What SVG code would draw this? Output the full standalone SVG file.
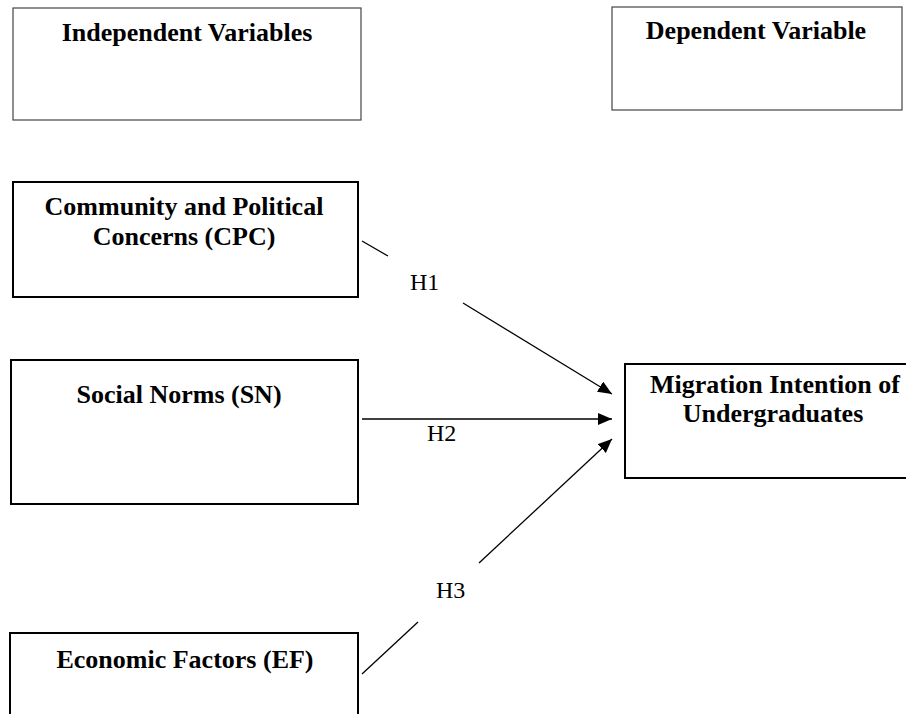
<svg xmlns="http://www.w3.org/2000/svg" width="906" height="714" viewBox="0 0 906 714">
<style>
  .hdr { fill: #fff; stroke: #444; stroke-width: 1.2; }
  .node { fill: #fff; stroke: #000; stroke-width: 2; }
  .t { font-family: "Liberation Serif", "Times New Roman", serif; font-weight: bold; font-size: 26px; fill: #000; text-anchor: middle; }
  .h { font-family: "Liberation Serif", "Times New Roman", serif; font-size: 24px; fill: #000; }
  .c { stroke: #000; stroke-width: 1.3; fill: none; }
</style>
<defs>
  <marker id="arr" markerUnits="userSpaceOnUse" markerWidth="16" markerHeight="14" refX="14" refY="6" orient="auto">
    <path d="M0,0 L14,6 L0,12 z" fill="#000"/>
  </marker>
</defs>
<rect width="906" height="714" fill="#fff"/>
<g id="independent-header">
  <rect class="hdr" x="13" y="8" width="348" height="112"/>
  <text class="t" x="187" y="41">Independent Variables</text>
</g>
<g id="dependent-header">
  <rect class="hdr" x="612" y="7" width="290" height="103"/>
  <text class="t" x="756" y="39">Dependent Variable</text>
</g>
<g id="cpc">
  <rect class="node" x="13" y="182" width="345" height="115"/>
  <text class="t" x="184" y="215">Community and Political</text>
  <text class="t" x="184" y="245">Concerns (CPC)</text>
</g>
<g id="sn">
  <rect class="node" x="11" y="360" width="347" height="144"/>
  <text class="t" x="179" y="403">Social Norms (SN)</text>
</g>
<g id="ef">
  <rect class="node" x="10" y="633" width="348" height="100"/>
  <text class="t" x="185" y="668">Economic Factors (EF)</text>
</g>
<g id="mi">
  <rect class="node" x="625" y="364" width="290" height="114"/>
  <text class="t" x="775" y="393">Migration Intention of</text>
  <text class="t" x="773" y="422">Undergraduates</text>
</g>
<g id="connectors">
  <line class="c" x1="362" y1="241" x2="388" y2="256"/>
  <line class="c" x1="463" y1="303" x2="612" y2="394" marker-end="url(#arr)"/>
  <text class="h" x="410" y="290">H1</text>
  <line class="c" x1="362" y1="419" x2="612" y2="419" marker-end="url(#arr)"/>
  <text class="h" x="427" y="441">H2</text>
  <line class="c" x1="362" y1="674" x2="418" y2="622"/>
  <line class="c" x1="479" y1="563" x2="612" y2="439" marker-end="url(#arr)"/>
  <text class="h" x="436" y="598">H3</text>
</g>
</svg>
